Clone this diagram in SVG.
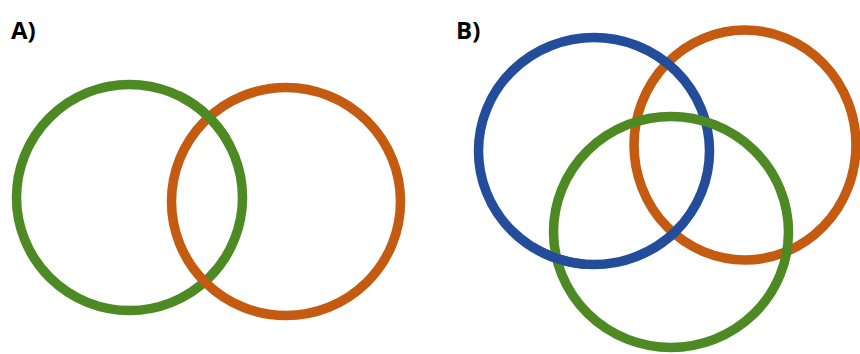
<svg xmlns="http://www.w3.org/2000/svg" xmlns:xlink="http://www.w3.org/1999/xlink" width="860" height="354" viewBox="0 0 860 354">
  <style>
    .ring { fill: none; stroke-width: 9.5; }
    .green { stroke: #4E8A24; }
    .orange { stroke: #C55A11; }
    .blue { stroke: #234C9A; }
    .label { font-family: "Open Sans", "Liberation Sans", sans-serif; font-weight: bold; font-size: 24px; fill: #000; }
  </style>
  <defs>
    <!-- small windows used to lift one ring over another at a crossing -->
    <clipPath id="clipA-top"><rect x="180" y="90" width="50" height="60"/></clipPath>
    <clipPath id="clipB-left"><rect x="535" y="225" width="50" height="50"/></clipPath>
  </defs>

  <rect width="860" height="354" fill="#fff"/>

  <!-- Panel A: two interlocking rings -->
  <g id="panelA">
    <text class="label" x="11" y="39">A)</text>
    <g id="A-green"><ellipse id="ringA-green" class="ring green" cx="129.5" cy="197.5" rx="113" ry="113"/></g>
    <g id="A-orange"><ellipse id="ringA-orange" class="ring orange" cx="286" cy="201.5" rx="114.5" ry="114"/></g>
    <use xlink:href="#ringA-green" clip-path="url(#clipA-top)"/>
  </g>

  <!-- Panel B: three interlocking rings -->
  <g id="panelB">
    <text class="label" x="456" y="39">B)</text>
    <g id="B-orange"><ellipse class="ring orange" cx="745" cy="145" rx="111" ry="115"/></g>
    <g id="B-blue"><ellipse id="ringB-blue" class="ring blue" cx="594" cy="151" rx="115.5" ry="113.5"/></g>
    <g id="B-green"><ellipse class="ring green" cx="671" cy="232" rx="117.5" ry="115.5"/></g>
    <use xlink:href="#ringB-blue" clip-path="url(#clipB-left)"/>
  </g>
</svg>
